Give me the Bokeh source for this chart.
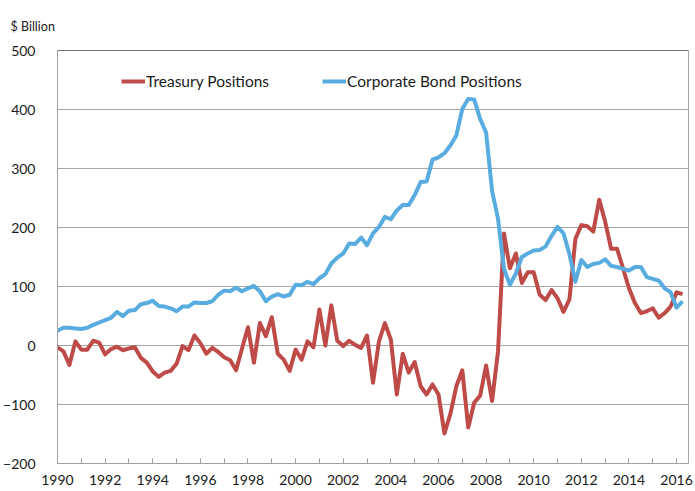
import numpy as np
from bokeh.plotting import figure
from bokeh.models import Range1d, FixedTicker, Legend, LegendItem, Span
from bokeh.embed import file_html
from bokeh.resources import INLINE

# Quarterly data, 1990Q1 onward ($ Billion)
treasury = [
    -3, -10, -33, 7, -7, -7, 8, 5, -15, -6,
    -2, -8, -5, -3, -21, -29, -44, -53, -46, -43,
    -31, -1, -8, 17, 4, -14, -4, -11, -20, -25,
    -42, -5, 31, -29, 38, 16, 48, -14, -24, -43,
    -7, -24, 7, -3, 61, 0, 68, 8, -1, 8,
    1, -4, 17, -63, 7, 38, 10, -83, -14, -46,
    -28, -69, -83, -66, -83, -149, -116, -69, -42, -139,
    -97, -85, -34, -94, -10, 190, 131, 156, 106, 124,
    124, 86, 77, 94, 80, 57, 78, 181, 204, 202,
    193, 247, 210, 164, 164, 131, 97, 72, 55, 58,
    63, 47, 55, 66, 90, 87,
]
corporate = [
    25, 30, 30, 29, 28, 30, 35, 39, 43, 47,
    57, 50, 59, 60, 70, 72, 76, 67, 66, 63,
    58, 66, 66, 73, 72, 72, 75, 86, 93, 92,
    98, 92, 97, 101, 92, 75, 83, 87, 83, 86,
    103, 102, 108, 104, 114, 121, 139, 149, 156, 173,
    172, 183, 170, 190, 201, 218, 214, 229, 238, 238,
    255, 277, 278, 315, 319, 326, 339, 356, 401, 418,
    417, 384, 361, 262, 215, 130, 103, 122, 150, 156,
    161, 162, 168, 186, 201, 190, 155, 108, 145, 133,
    138, 140, 146, 135, 133, 130, 127, 133, 133, 116,
    113, 110, 97, 90, 64, 75,
]
start_year = 1990
x_labels = list(range(1990, 2017, 2))
x_minor = list(range(1990, 2017))
y_ticks = [-200, -100, 0, 100, 200, 300, 400, 500]
y_start, y_end = -200, 500
x_end = 2016.5

dates = start_year + np.arange(len(treasury)) / 4.0

FONT = "Lato"
RED = "#BE4B48"
BLUE = "#58ACDF"

p = figure(width=695, height=491,
           x_range=Range1d(start_year, x_end), y_range=Range1d(y_start, y_end),
           output_backend="svg", toolbar_location=None,
           min_border_left=55, min_border_right=7, min_border_top=48, min_border_bottom=28)

p.title.text = "$ Billion"
p.title.align = "left"
p.title.offset = -47
p.title.standoff = 33
p.title.text_font = FONT
p.title.text_font_size = "12.5px"
p.title.text_font_style = "normal"
p.title.text_color = "#1a1a1a"

p.outline_line_color = "#a6a6a6"
p.background_fill_color = "white"
p.border_fill_color = "white"

p.xgrid.visible = False
p.ygrid.grid_line_color = "#a6a6a6"
p.ygrid.grid_line_width = 1
p.ygrid.ticker = FixedTicker(ticks=y_ticks)

p.yaxis.ticker = FixedTicker(ticks=y_ticks)
p.yaxis.axis_line_color = "#a0a0a0"
p.yaxis.major_tick_line_color = None
p.yaxis.minor_tick_line_color = None
p.yaxis.major_label_standoff = 16
p.yaxis.major_label_text_font = FONT
p.yaxis.major_label_text_font_size = "14px"
p.yaxis.major_label_text_color = "#1a1a1a"

p.xaxis.ticker = FixedTicker(ticks=x_labels, minor_ticks=x_minor)
p.xaxis.axis_line_color = "#a0a0a0"
p.xaxis.major_tick_in = 5
p.xaxis.major_tick_out = 0
p.xaxis.minor_tick_in = 5
p.xaxis.minor_tick_out = 0
p.xaxis.major_tick_line_color = "#a0a0a0"
p.xaxis.minor_tick_line_color = "#a0a0a0"
p.xaxis.major_label_standoff = 11
p.xaxis.major_label_text_font = FONT
p.xaxis.major_label_text_font_size = "14px"
p.xaxis.major_label_text_color = "#1a1a1a"

p.add_layout(Span(location=y_end, dimension="width", line_color="#404040", line_width=1))

r1 = p.line(dates, treasury, line_color=RED, line_width=4, line_join="round")
r2 = p.line(dates, corporate, line_color=BLUE, line_width=4, line_join="round")

legend = Legend(items=[LegendItem(label="Treasury Positions", renderers=[r1]),
                       LegendItem(label="Corporate Bond Positions", renderers=[r2])],
                orientation="horizontal", location=(64, 372),
                border_line_alpha=0, background_fill_alpha=0,
                padding=0, margin=0, spacing=53,
                glyph_width=24, glyph_height=20, label_height=20,
                label_standoff=1, label_text_font=FONT, label_text_font_size="15.5px",
                label_text_color="#1a1a1a")
p.add_layout(legend)

open("out.html", "w").write(file_html(p, INLINE))
